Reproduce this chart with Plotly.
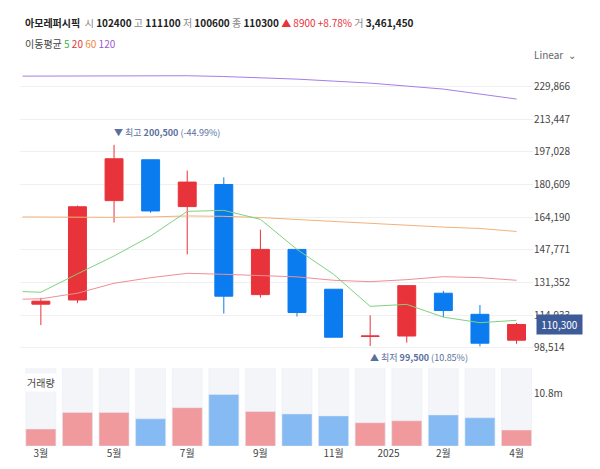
import plotly.graph_objects as go

x_idx = list(range(14))
month_labels = ["3월", "5월", "7월", "9월", "11월", "2025", "2월", "4월"]
month_pos = [0, 2, 4, 6, 8, 9.5, 11, 13]

opens = [120500, 122600, 172500, 193000, 169500, 180600, 125300, 148000, 128000, 104300, 104500, 126000, 115400, 102400]
highs = [123700, 170000, 200500, 193000, 187600, 184200, 157900, 148000, 128000, 114900, 129800, 127200, 120100, 111100]
lows = [110000, 121000, 161500, 166400, 145500, 115800, 123800, 114300, 103900, 99500, 101200, 114000, 99300, 100600]
closes = [122000, 169400, 193500, 167300, 181800, 124500, 148000, 116300, 103900, 104500, 129800, 117300, 100900, 110300]
volumes = [3.5e6, 6.9e6, 6.9e6, 5.6e6, 7.9e6, 10.6e6, 7.1e6, 6.6e6, 6.2e6, 4.8e6, 5.2e6, 6.4e6, 5.8e6, 3.3e6]

ma_x = [-0.5] + x_idx
ma5 = [126800, 126500, 135700, 144700, 154700, 167100, 167600, 163100, 148000, 135500, 119400, 120400, 114000, 111200, 112400]
ma20 = [123000, 123200, 126000, 131000, 133800, 136000, 135500, 135000, 134200, 132500, 131800, 132800, 134300, 133800, 132500]
ma60 = [164300, 164200, 164100, 164100, 164300, 164800, 164600, 164000, 163000, 162000, 161000, 160000, 159200, 158500, 157000]
ma120 = [235000, 235000, 235200, 235300, 235300, 235200, 234800, 234200, 233500, 232500, 231500, 230000, 228500, 226000, 223500]

tickvals = [98514, 114933, 131352, 147771, 164190, 180609, 197028, 213447, 229866]

RED, BLUE = "#e8333a", "#0a7cf0"
fig = go.Figure()
fig.add_trace(go.Candlestick(x=x_idx, open=opens, high=highs, low=lows, close=closes,
    increasing=dict(line=dict(color=RED, width=1), fillcolor=RED),
    decreasing=dict(line=dict(color=BLUE, width=1), fillcolor=BLUE),
    whiskerwidth=0, xaxis="x", yaxis="y", showlegend=False, hoverinfo="skip"))
for ys, c in [(ma120, "#a77de8"), (ma60, "#f2b27a"), (ma20, "#ef8f95"), (ma5, "#7fd17f")]:
    fig.add_trace(go.Scatter(x=ma_x, y=ys, mode="lines", line=dict(color=c, width=1),
                             xaxis="x", yaxis="y", showlegend=False, hoverinfo="skip"))
vmax = 16e6
fig.add_trace(go.Bar(x=x_idx, y=[vmax]*14, marker_color="#f4f5f8", width=0.82,
                     xaxis="x2", yaxis="y2", showlegend=False, hoverinfo="skip"))
vcol = ["#f19a9e" if c >= o else "#86baf3" for o, c in zip(opens, closes)]
fig.add_trace(go.Bar(x=x_idx, y=volumes, marker_color=vcol, width=0.82,
                     xaxis="x2", yaxis="y2", showlegend=False, hoverinfo="skip"))

xr = [-0.57, 13.45]
fig.update_layout(
    width=600, height=469, margin=dict(l=12, r=75, t=53, b=29),
    paper_bgcolor="white", plot_bgcolor="white", barmode="overlay",
    font=dict(family="Noto Sans CJK KR", size=10, color="#333"),
    xaxis=dict(range=xr, showgrid=False, showticklabels=False, zeroline=False,
               rangeslider=dict(visible=False), anchor="y"),
    yaxis=dict(domain=[0.225, 1.0], range=[92000, 242600], side="right",
               tickvals=tickvals, ticktext=[f"{v:,}" for v in tickvals],
               gridcolor="#f0f0f0", zeroline=False, tickfont=dict(size=10, color="#444")),
    xaxis2=dict(range=xr, anchor="y2", tickvals=month_pos, ticktext=month_labels,
                showgrid=False, zeroline=False, tickfont=dict(size=10, color="#444"), ticks=""),
    yaxis2=dict(domain=[0.005, 0.206], range=[0, vmax], side="right",
                tickvals=[10.8e6], ticktext=["10.8m"], showgrid=False, zeroline=False,
                tickfont=dict(size=10, color="#444")),
)
hdr = ("<b>아모레퍼시픽</b>  <span style='color:#888'>시</span> <b>102400</b> <span style='color:#888'>고</span> <b>111100</b> "
       "<span style='color:#888'>저</span> <b>100600</b> <span style='color:#888'>종</span> <b>110300</b> "
       "<span style='color:#e8333a'>▲ 8900 +8.78%</span> <span style='color:#888'>거</span> <b>3,461,450</b>")
fig.add_annotation(xref="paper", yref="paper", x=0.005, y=1.10, xanchor="left", yanchor="middle",
                   text=hdr, showarrow=False, font=dict(size=10, color="#222"))
fig.add_annotation(xref="paper", yref="paper", x=0.005, y=1.044, xanchor="left", yanchor="middle",
                   text="이동평균 <span style='color:#3cb44b'>5</span> <span style='color:#e8333a'>20</span> "
                        "<span style='color:#f08a3c'>60</span> <span style='color:#9b59d0'>120</span>",
                   showarrow=False, font=dict(size=10, color="#444"))
fig.add_annotation(xref="paper", yref="paper", x=1.087, y=1.016, xanchor="right", yanchor="middle",
                   text="Linear  ⌄", showarrow=False, font=dict(size=10, color="#666"))
fig.add_annotation(x=1.95, y=highs[2], xref="x", yref="y", xanchor="left", yanchor="bottom", yshift=4,
                   text="▼ 최고 <b>200,500</b> (-44.99%)", showarrow=False, font=dict(size=9, color="#5a6f9e"))
fig.add_annotation(x=8.95, y=lows[9], xref="x", yref="y", xanchor="left", yanchor="top", yshift=-3,
                   text="▲ 최저 <b>99,500</b> (10.85%)", showarrow=False, font=dict(size=9, color="#5a6f9e"))
fig.add_annotation(xref="paper", x=1.005, y=closes[-1], yref="y", xanchor="left", yanchor="middle",
                   text=" 110,300 ", showarrow=False, bgcolor="#3d5a99", borderpad=2,
                   font=dict(size=10, color="white"))
fig.add_annotation(xref="paper", yref="paper", x=0.01, y=0.17, xanchor="left", yanchor="middle",
                   text="거래량", showarrow=False, bgcolor="white", font=dict(size=10, color="#444"))
fig.write_html("out.html")
